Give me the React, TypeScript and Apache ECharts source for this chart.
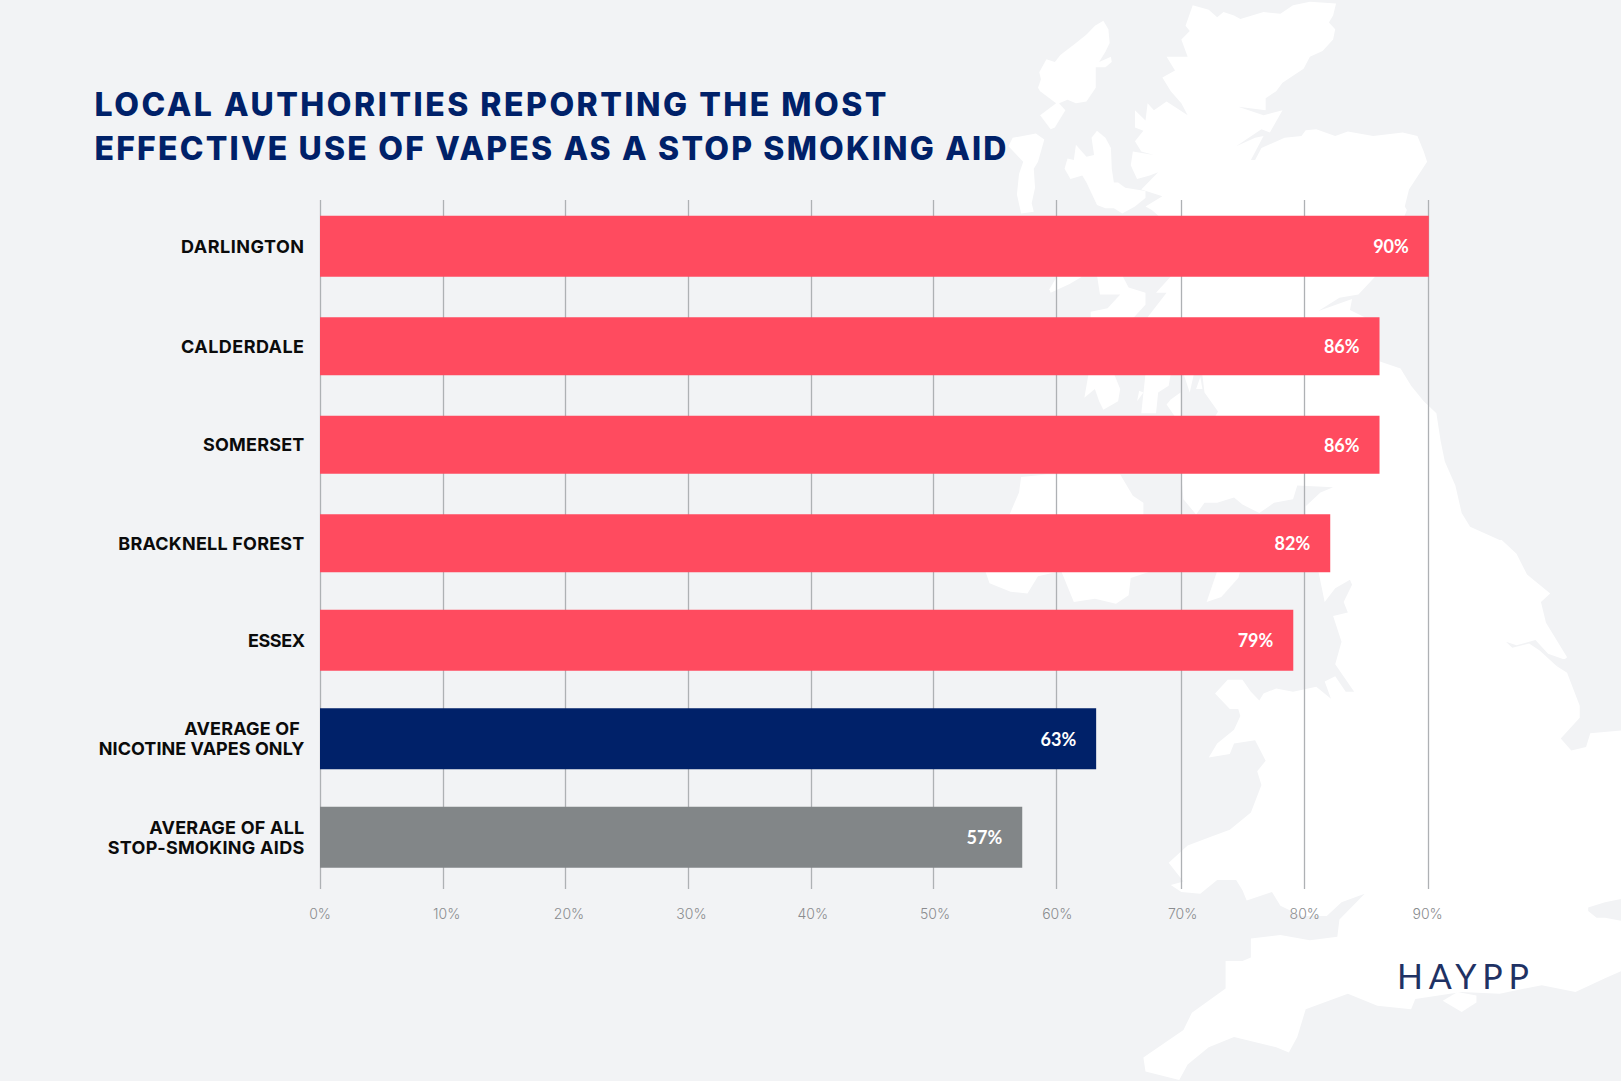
import React, { useEffect, useRef } from "react";
import * as echarts from "echarts";

const titleText = "LOCAL AUTHORITIES REPORTING THE MOST\nEFFECTIVE USE OF VAPES AS A STOP SMOKING AID";
const categories = ["DARLINGTON", "CALDERDALE", "SOMERSET", "BRACKNELL FOREST", "ESSEX", "AVERAGE OF \nNICOTINE VAPES ONLY", "AVERAGE OF ALL\nSTOP-SMOKING AIDS"];
const values = [90, 86, 86, 82, 79, 63, 57];
const barColors = ["#FF4B5F", "#FF4B5F", "#FF4B5F", "#FF4B5F", "#FF4B5F", "#002169", "#828688"];
const thinnerBars = [1, 2, 3];
const axisTicks = [0, 10, 20, 30, 40, 50, 60, 70, 80, 90];
const gridLinePositions = [0, 9.976, 19.94, 29.89, 39.86, 49.81, 59.78, 69.87, 79.93, 89.99];
const tickLabelPositions = [0, 10.28, 20.21, 30.15, 40.0, 49.92, 59.84, 70.02, 79.93, 89.9];
const logoText = "HAYPP";

const textWidths: Record<string, number> = {
  "LOCAL AUTHORITIES REPORTING THE MOST": 792,
  "EFFECTIVE USE OF VAPES AS A STOP SMOKING AID": 912,
  DARLINGTON: 123,
  CALDERDALE: 123,
  SOMERSET: 101.3,
  "BRACKNELL FOREST": 186,
  ESSEX: 56.9,
  "AVERAGE OF ": 120,
  "NICOTINE VAPES ONLY": 205.7,
  "AVERAGE OF ALL": 155,
  "STOP-SMOKING AIDS": 196.4,
  HAYPP: 132,
};

const BG = "#F2F3F5";
const z1 = (a: number[][]) => a.map(([x, y]) => [960 + x / 2.372, y / 2.904]);
const z2 = (a: number[][]) => a.map(([x, y]) => [960 + x / 2.372, 540 + y / 2.898]);

const mainland = [
  ...z1([[552,15],[590,28],[610,50],[625,35],[650,45],[665,55],[720,35],[760,40],[790,15],[830,5],[892,10],[885,45],[875,65],[890,85],[885,115],[860,148],[830,165],[815,200],[765,240],[750,265],[725,285],[725,320],[660,310],[720,335],[765,320],[735,385],[715,375],[655,425],[700,400],[720,395],[690,465],[655,462],[700,465],[715,430],[770,400],[810,395],[820,378],[845,375],[890,395],[920,382],[980,395],[1050,385],[1085,395],[1100,440],[1108,470],[1065,550],[1055,600],[1060,610],[1050,640],[985,803],[945,855],[900,865],[850,903],[930,868],[925,900],[960,921],[996,1050],[1045,1070],[1070,1120],[1100,1165],[1130,1200],[1140,1280],[1150,1340],[1175,1410],[1190,1490],[1210,1530],[1280,1568]]),
  ...z2([[1285,0],[1320,40],[1345,100],[1400,155],[1378,180],[1390,240],[1440,340],[1415,365],[1440,385],[1470,480],[1470,515],[1425,575],[1450,610],[1485,600],[1495,560],[1568,552],[1700,552],[1700,1250],[1568,1250],[1530,1270],[1460,1310],[1380,1290],[1280,1315],[1190,1310],[1080,1330],[1070,1360],[990,1350],[920,1315],[820,1360],[800,1440],[780,1485],[750,1470],[650,1440],[590,1470],[540,1520],[520,1565],[440,1540],[435,1500],[530,1420],[550,1370],[630,1300],[630,1220],[670,1220],[690,1210],[690,1155],[760,1145],[830,1160],[895,1150],[900,1100],[960,1025],[905,1050],[870,1090],[810,1090],[760,1060],[740,1020],[680,1045],[670,1015],[655,985],[610,985],[570,1025],[525,1020],[500,1000],[530,990],[495,935],[540,885],[595,860],[640,840],[690,790],[715,710],[705,670],[725,640],[700,580],[650,590],[640,620],[590,630],[610,590],[650,550],[665,510],[660,490],[640,490],[605,445],[635,405],[670,405],[690,440],[710,465],[720,445],[750,430],[790,440],[845,425],[880,460],[865,410],[890,395],[915,440],[935,440],[890,360],[905,295],[885,220],[920,210],[910,180],[930,130],[925,115],[890,140],[865,180],[850,90]]),
  ...z1([[820,1494],[820,1470],[855,1430],[885,1415],[800,1410],[790,1450],[745,1460],[710,1490],[670,1465],[650,1445],[610,1460],[580,1460],[560,1494],[530,1450],[525,1380],[612,1195],[580,1140],[575,1090],[445,921],[490,850],[465,850],[500,803],[470,626],[455,610],[440,600],[480,570],[430,550],[470,500],[450,510],[420,520],[405,480],[410,440],[460,450],[430,440],[415,410],[435,380],[415,370],[415,320],[440,350],[445,300],[460,320],[490,295],[540,335],[525,300],[500,265],[480,225],[510,205],[490,165],[540,165],[525,115],[545,90],[535,75]]),
];

const land = [
  mainland,
  z1([[340,60],[352,85],[355,125],[345,150],[330,180],[358,165],[360,180],[345,195],[322,195],[322,255],[300,295],[275,300],[255,290],[235,300],[250,320],[225,370],[215,375],[190,335],[228,300],[190,265],[185,255],[192,230],[188,210],[205,172],[225,180],[238,160],[275,125],[300,100],[320,75]]),
  z1([[125,400],[180,388],[200,405],[185,470],[175,490],[178,545],[170,590],[175,615],[145,620],[135,565],[140,505],[150,470],[115,425]]),
  z1([[325,380],[345,400],[358,430],[360,490],[365,530],[375,530],[392,545],[440,555],[440,575],[415,600],[385,620],[365,605],[345,605],[325,595],[300,530],[290,510],[262,520],[248,490],[255,460],[270,465],[275,420],[300,455],[318,450],[312,400]]),
  z1([[215,850],[260,825],[290,803],[230,803],[212,840]]),
  z1([[325,800],[332,855],[380,855],[350,895],[310,905],[310,925],[410,925],[440,885],[440,850],[400,835],[385,800]]),
  z1([[305,1085],[295,1155],[320,1130],[330,1165],[340,1190],[375,1165],[380,1130],[365,1085]]),
  z1([[425,1135],[420,1165],[435,1140]]),
  z1([[440,1085],[430,1200],[465,1200],[470,1140],[495,1120],[500,1085]]),
  z1([[500,1160],[490,1175],[510,1210],[523,1210],[523,1140]]),
  z1([[530,1085],[545,1140],[555,1085]]),
  z1([[560,1130],[575,1130],[570,1095]]),
  [...z1([[140,1430],[145,1385],[205,1378],[380,1378],[410,1440],[435,1460],[435,1500]]), ...z2([[455,90],[405,110],[400,160],[370,185],[320,170],[270,180],[240,90],[185,105],[160,155],[120,150],[70,125],[60,90]])],
  z2([[610,90],[585,180],[620,165],[660,110],[665,90]]),
  z2([[1145,1335],[1180,1310],[1225,1320],[1225,1340],[1190,1368]]),
];

const water = [
  z2([[1295,295],[1320,305],[1365,290],[1395,330],[1430,345],[1445,345],[1415,365],[1375,320],[1350,300],[1310,312]]),
  z2([[1490,1065],[1530,1050],[1568,1040],[1600,1030],[1600,1110],[1530,1095],[1510,1095],[1490,1075]]),
];

const FONT = "Inter";
const gridLeft = 320;
const gridWidth = 1108.8;

function makeOption() {
  const xBase = { type: "value", min: 0, max: 90, interval: 10 };
  const hiddenX = (gridIndex: number) => ({ ...xBase, gridIndex, show: false });
  const catAxis = (gridIndex: number, forThin: boolean) => ({
    type: "category",
    gridIndex,
    inverse: true,
    data: categories,
    axisLine: { show: false },
    axisTick: { show: false },
    splitLine: { show: false },
    axisLabel: {
      margin: 15.5,
      padding: [2, 0, 0, 0],
      interval: (i: number) => thinnerBars.includes(i) === forThin,
      color: "#0B0B0B",
      fontFamily: FONT,
      fontWeight: 700,
      fontSize: 18,
      lineHeight: 20,
      align: "right",
    },
  });
  const label = {
    show: true,
    position: "insideRight",
    distance: 20,
    formatter: "{c}%",
    color: "#FFFFFF",
    fontFamily: "Lato",
    fontWeight: 700,
    fontSize: 18,
  };
  const pick = (thin: boolean) =>
    values.map((v, i) =>
      thinnerBars.includes(i) === thin ? { value: v, itemStyle: { color: barColors[i] } } : null
    );
  return {
    animation: false,
    backgroundColor: BG,
    title: {
      text: titleText,
      left: 94.5,
      top: 82,
      padding: 0,
      textStyle: { color: "#002169", fontFamily: FONT, fontWeight: 800, fontSize: 32, lineHeight: 44 },
    },
    grid: [
      { left: gridLeft, top: 200, width: gridWidth, height: 689 },
      { left: gridLeft, top: 197, width: gridWidth, height: 689.5 },
      { left: gridLeft, top: 198.6, width: gridWidth, height: 689.5 },
    ],
    xAxis: [
      {
        ...xBase,
        gridIndex: 0,
        axisLine: { show: false },
        axisTick: { show: false, customValues: gridLinePositions },
        splitLine: { show: true, lineStyle: { color: "#AEB1B4", width: 1.3 } },
        axisLabel: {
          margin: 17,
          color: "#8A8C8F",
          fontFamily: FONT,
          fontWeight: 300,
          fontSize: 14,
          customValues: tickLabelPositions,
          formatter: (v: number) => `${axisTicks[tickLabelPositions.indexOf(v)]}%`,
        },
      },
      hiddenX(1),
      hiddenX(2),
    ],
    yAxis: [
      { type: "value", gridIndex: 0, min: 0, max: 1, show: false },
      catAxis(1, false),
      catAxis(2, true),
    ],
    series: [
      { type: "bar", xAxisIndex: 0, yAxisIndex: 0, data: [], silent: true },
      { type: "bar", xAxisIndex: 1, yAxisIndex: 1, barWidth: 61, data: pick(false), label, silent: true },
      { type: "bar", xAxisIndex: 2, yAxisIndex: 2, barWidth: 58, data: pick(true), label, silent: true },
    ],
    graphic: {
      elements: [
        ...land.map((points) => ({
          type: "polygon",
          silent: true,
          z: -10,
          shape: { points },
          style: { fill: "#FFFFFF" },
        })),
        ...water.map((points) => ({
          type: "polygon",
          silent: true,
          z: -9,
          shape: { points },
          style: { fill: BG },
        })),
        {
          type: "text",
          silent: true,
          z: 10,
          x: 1397,
          y: 958,
          style: { text: logoText, fill: "#1F3264", font: "400 34px Lato" },
        },
      ],
    },
  };
}

export default function App() {
  const ref = useRef<HTMLDivElement>(null);
  useEffect(() => {
    const chart = echarts.init(ref.current!, null, { renderer: "svg" });
    chart.setOption(makeOption() as any);
    const fitTexts = () => {
      ref.current?.querySelectorAll("text").forEach((t) => {
        const s = t.textContent || "";
        const target = textWidths[s];
        if (target === undefined) return;
        t.style.letterSpacing = "0px";
        const natural = t.getComputedTextLength();
        t.style.letterSpacing = `${(target - natural) / Math.max(1, s.length - 1)}px`;
      });
    };
    fitTexts();
    const raf = requestAnimationFrame(fitTexts);
    return () => {
      cancelAnimationFrame(raf);
      chart.dispose();
    };
  }, []);
  return <div ref={ref} style={{ position: "fixed", left: 0, top: 0, width: 1621, height: 1081 }} />;
}
